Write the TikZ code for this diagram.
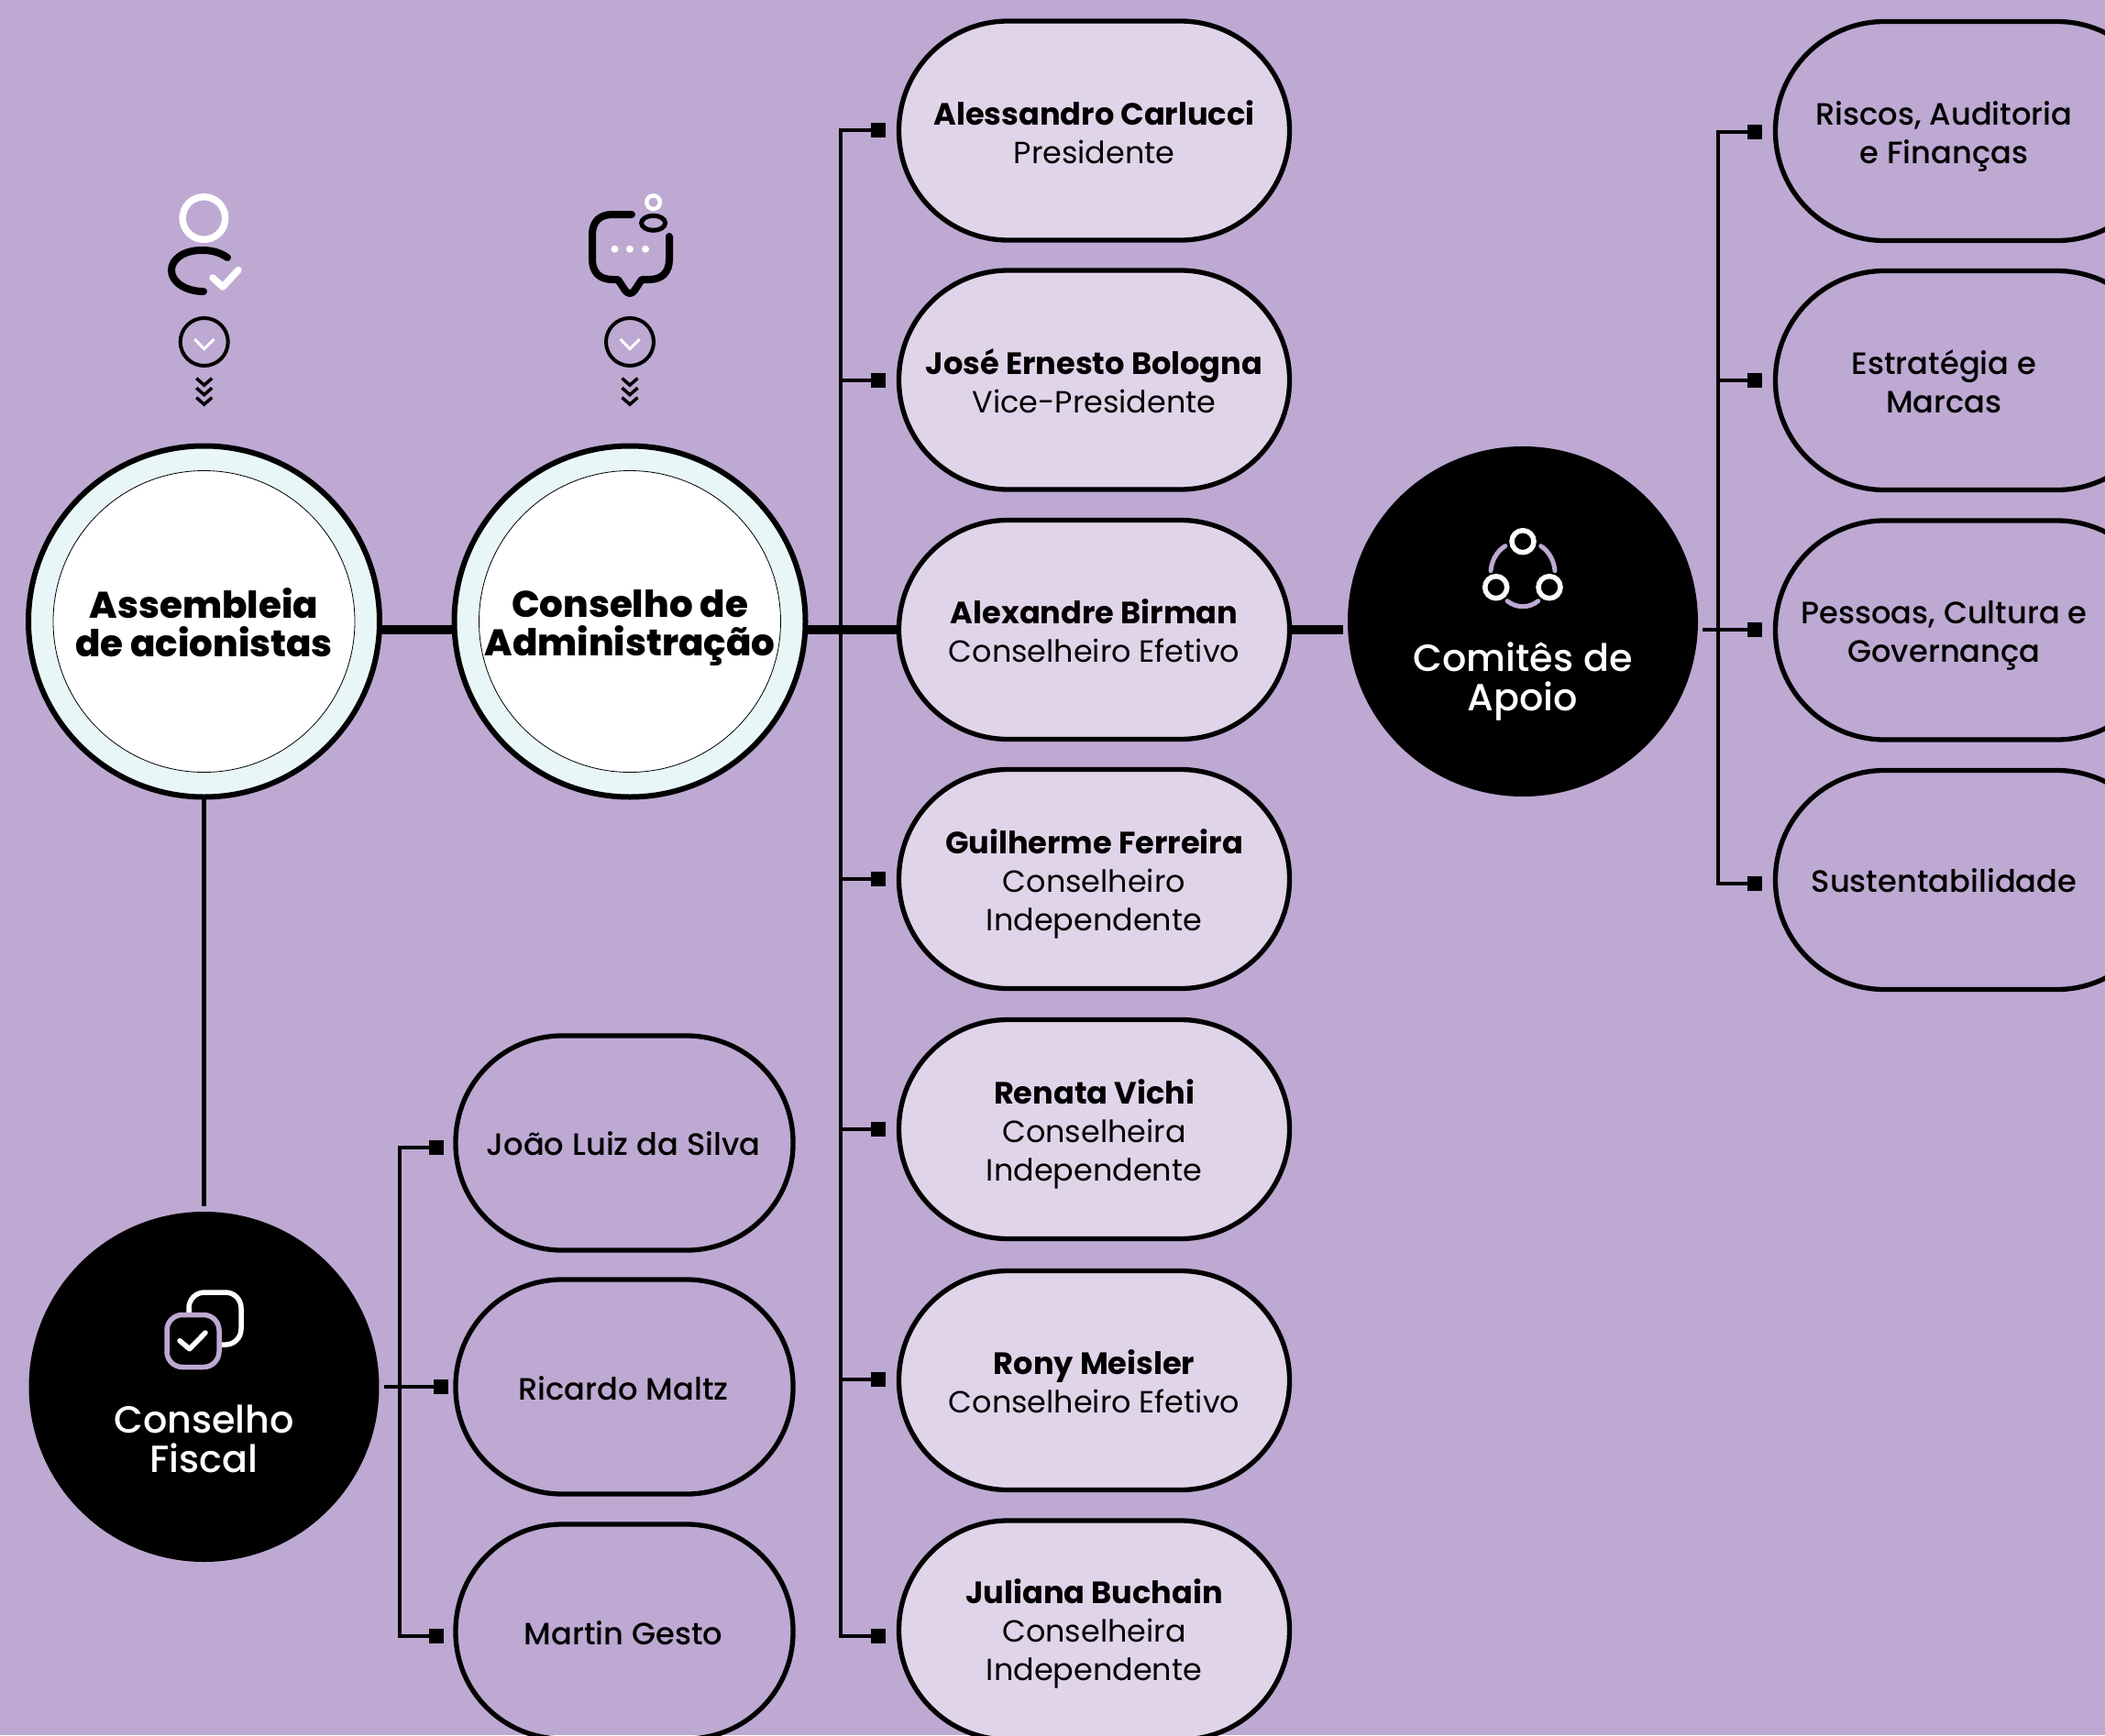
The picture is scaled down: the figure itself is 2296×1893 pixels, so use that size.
\documentclass[tikz,border=0pt]{standalone}
\usepackage{fontspec}
\setmainfont{Poppins}
\newfontfamily\popm{Poppins Medium}
\newfontfamily\popx{Poppins ExtraBold}
\definecolor{bgc}{HTML}{BDA9D2}
\definecolor{pillc}{HTML}{E0D4E9}
\definecolor{ringc}{HTML}{E8F6F7}
\tikzset{
  ring/.style={circle,draw=black,line width=6pt,fill=ringc,minimum size=383pt,inner sep=0pt,outer sep=0pt},
  innerring/.style={circle,draw=black,line width=0.8pt,fill=white,minimum size=329pt,inner sep=0pt,outer sep=0pt},
  blackc/.style={circle,fill=black,minimum size=382pt,inner sep=0pt,outer sep=0pt},
  pilla/.style={rectangle,draw=black,line width=5.3pt,fill=pillc,minimum width=426pt,minimum height=239pt,rounded corners=119pt,outer sep=0pt},
  pillr/.style={rectangle,draw=black,line width=5.3pt,minimum width=426pt,minimum height=239pt,rounded corners=119pt,outer sep=0pt},
  pills/.style={rectangle,draw=black,line width=5.3pt,minimum width=368pt,minimum height=234pt,rounded corners=116pt,outer sep=0pt},
  sq/.style={rectangle,fill=black,minimum size=16pt,inner sep=0pt,outer sep=0pt},
  txt/.style={align=center,inner sep=0pt,font=\fontsize{33.4}{42}\selectfont},
  txm/.style={align=center,inner sep=0pt,font=\popm\fontsize{33.7}{42}\selectfont},
  ttl/.style={align=center,inner sep=0pt,font=\popx\fontsize{40.4}{42}\selectfont},
  wtl/.style={align=center,inner sep=0pt,text=white,font=\popm\fontsize{41.3}{43}\selectfont},
  thickl/.style={draw=black,line width=10.5pt},
  thinl/.style={draw=black,line width=4pt},
  chev/.style={draw=black,line width=3.5pt},
}
\newcommand{\nm}[1]{{\bfseries\fontsize{33.6}{42}\selectfont #1}}
\newcommand{\chevs}[2]{%
  \draw[chev] (#1-8.5,#2) -- (#1,#2+7.5) -- (#1+8.5,#2);
  \draw[chev] (#1-8.5,#2+10.5) -- (#1,#2+18) -- (#1+8.5,#2+10.5);
  \draw[chev] (#1-8.5,#2+21) -- (#1,#2+28.5) -- (#1+8.5,#2+21);}
\begin{document}
\begin{tikzpicture}[x=1pt,y=-1pt]
\useasboundingbox (0,0) rectangle (2296,1893);
\clip (0,0) rectangle (2296,1893);
\fill[bgc] (0,0) rectangle (2296,1893);

% main nodes
\node[ring] (c1) at (222.5,678) {};
\node[innerring] (c1i) at (c1.center) {};
\node[ttl] (c1t) at (222.5,679.5) {Assembleia\\de acionistas};
\node[ring] (c2) at (687,678) {};
\node[innerring] (c2i) at (c2.center) {};
\node[ttl] (c2t) at (687,685) {Conselho de\\Administração};
\node[blackc] (com) at (1661,678) {};
\node[blackc] (fis) at (222.5,1513) {};

% middle pills
\foreach \n/\y in {m1/142.5,m2/414.5,m3/687,m4/959,m5/1232,m6/1506,m7/1778.5}
  \node[pilla] (\n) at (1193.5,\y) {};
% right pills
\foreach \n/\y in {r1/143,r2/415,r3/687.5,r4/960}
  \node[pillr] (\n) at (2149.5,\y) {};
% small pills
\foreach \n/\y in {s1/1247,s2/1513,s3/1780}
  \node[pills] (\n) at (681,\y) {};

% pill text
\node[txt] (m1t) at (1193.5,144) {\nm{Alessandro Carlucci}\\Presidente};
\node[txt] (m2t) at (1193.5,415.5) {\nm{José Ernesto Bologna}\\Vice-Presidente};
\node[txt] (m3t) at (1193.5,688) {\nm{Alexandre Birman}\\Conselheiro Efetivo};
\node[txt] (m4t) at (1193.5,964) {\nm{Guilherme Ferreira}\\Conselheiro\\Independente};
\node[txt] (m5t) at (1193.5,1237.5) {\nm{Renata Vichi}\\Conselheira\\Independente};
\node[txt] (m6t) at (1193.5,1507) {\nm{Rony Meisler}\\Conselheiro Efetivo};
\node[txt] (m7t) at (1193.5,1782.5) {\nm{Juliana Buchain}\\Conselheira\\Independente};
\node[txm] (r1t) at (2120.5,148.5) {Riscos, Auditoria\\e Finanças};
\node[txm] (r2t) at (2120.5,416) {Estratégia e\\Marcas};
\node[txm] (r3t) at (2120.5,693) {Pessoas, Cultura e\\Governança};
\node[txm] (r4t) at (2120.5,961) {Sustentabilidade};
\node[txm] (s1t) at (680,1248) {João Luiz da Silva};
\node[txm] (s2t) at (680,1515) {Ricardo Maltz};
\node[txm] (s3t) at (680,1781.5) {Martin Gesto};
\node[wtl] (comt) at (1661,743) {Comitês de\\Apoio};
\node[wtl] (fist) at (222.5,1570) {Conselho\\Fiscal};

% squares
\foreach \n/\y in {qm1/142,qm2/415,qm4/959,qm5/1232,qm6/1505,qm7/1785}
  \node[sq] (\n) at (958,\y) {};
\foreach \n/\y in {qr1/143.5,qr2/414.5,qr3/687,qr4/963.5}
  \node[sq] (\n) at (1914,\y) {};
\node[sq] (qs1) at (476,1252) {};
\node[sq] (qs2) at (481,1513) {};
\node[sq] (qs3) at (476,1785) {};

% bus corners
\coordinate (mtop) at (917,142);
\coordinate (mbot) at (917,1785);
\coordinate (rtop) at (1874,143.5);
\coordinate (rbot) at (1874,963.5);
\coordinate (stop) at (435.5,1252);
\coordinate (sbot) at (435.5,1785);

% connectors
\draw[thickl] ([yshift=-9pt]c1.east) -- ([yshift=-9pt]c2.west);
\draw[thickl] ([yshift=-9pt]c2.east) -- (m3.west);
\draw[thickl] (m3.east) -- ([xshift=-5pt]com.west |- m3.east);
\draw[thinl,line width=5pt] (c1.south) -- ([yshift=6pt]fis.north);
\draw[thinl] (qm1) -- (mtop) -- (mbot) -- (qm7);
\draw[thinl] (mtop |- qm2) -- (qm2);
\draw[thinl] (mtop |- qm4) -- (qm4);
\draw[thinl] (mtop |- qm5) -- (qm5);
\draw[thinl] (mtop |- qm6) -- (qm6);
\draw[thinl] (qr1) -- (rtop) -- (rbot) -- (qr4);
\draw[thinl] (rtop |- qr2) -- (qr2);
\draw[thinl] ([xshift=5pt,yshift=-9pt]com.east) -- (qr3);
\draw[thinl] (qs1) -- (stop) -- (sbot) -- (qs3);
\draw[thinl] ([xshift=5pt]fis.east) -- (qs2);

% person icon
\draw[white,line width=7.5pt] (222.4,238) circle (23.3);
\draw[black,line width=8pt,line cap=round,line join=round] (248,281) .. controls (238,274) and (228,273) .. (220,273)
  .. controls (200,273) and (187,283) .. (187,295)
  .. controls (187,308) and (203,318) .. (222,318);
\draw[white,line width=7.5pt,line cap=round,line join=round] (232,303) -- (243,313) -- (260,294.5);
\node[circle,draw=black,line width=4pt,minimum size=52pt,inner sep=0pt] (d1) at (222.7,373) {};
\draw[white,line width=3pt] (212.4,370) -- (222.7,380.7) -- (233.4,370);
\chevs{222.7}{412.7}

% speech icon
\draw[black,line width=8pt,line cap=round,line join=round] (689,234) -- (668,234) .. controls (654,234) and (646,242) .. (646,256)
  -- (646,283) .. controls (646,297) and (654,305) .. (668,305) -- (674,305)
  -- (682,317) .. controls (685,321) and (689,321) .. (692,317) -- (700,305) -- (708,305)
  .. controls (722,305) and (730,297) .. (730,283) -- (730,258);
\draw[black,line width=5pt] (712.6,243.3) ellipse (13 and 8);
\draw[white,line width=4.5pt] (712.6,220.7) circle (7.3);
\fill[white] (670.5,271.7) circle (4) (687,271.7) circle (4) (704,271.7) circle (4);
\node[circle,draw=black,line width=4pt,minimum size=52pt,inner sep=0pt] (d2) at (687,373) {};
\draw[white,line width=3pt] (676.7,370) -- (687,380.7) -- (697.7,370);
\chevs{687}{412.7}

% comites icon
\draw[white,line width=5.5pt] (1661,590.7) circle (12) (1631.7,640.7) circle (12) (1690,640.7) circle (12);
\draw[bgc,line width=5pt,line cap=round] (1641.7,595.7) .. controls (1632,602) and (1627,612) .. (1626,622.7);
\draw[bgc,line width=5pt,line cap=round] (1680.7,595.7) .. controls (1690,602) and (1695,612) .. (1696,622.7);
\draw[bgc,line width=5pt,line cap=round] (1644,655.7) .. controls (1654,663.7) and (1668,663.7) .. (1677.7,655.7);

% fiscal icon
\draw[white,line width=5.5pt,rounded corners=17pt] (206,1410) rectangle (263,1467);
\draw[bgc,fill=black,line width=5.5pt,rounded corners=17pt] (182,1434.5) rectangle (239,1491.5);
\draw[white,line width=5.5pt,line cap=round,line join=round] (196,1462.7) -- (206.7,1471.7) -- (224,1454);
\end{tikzpicture}
\end{document}
